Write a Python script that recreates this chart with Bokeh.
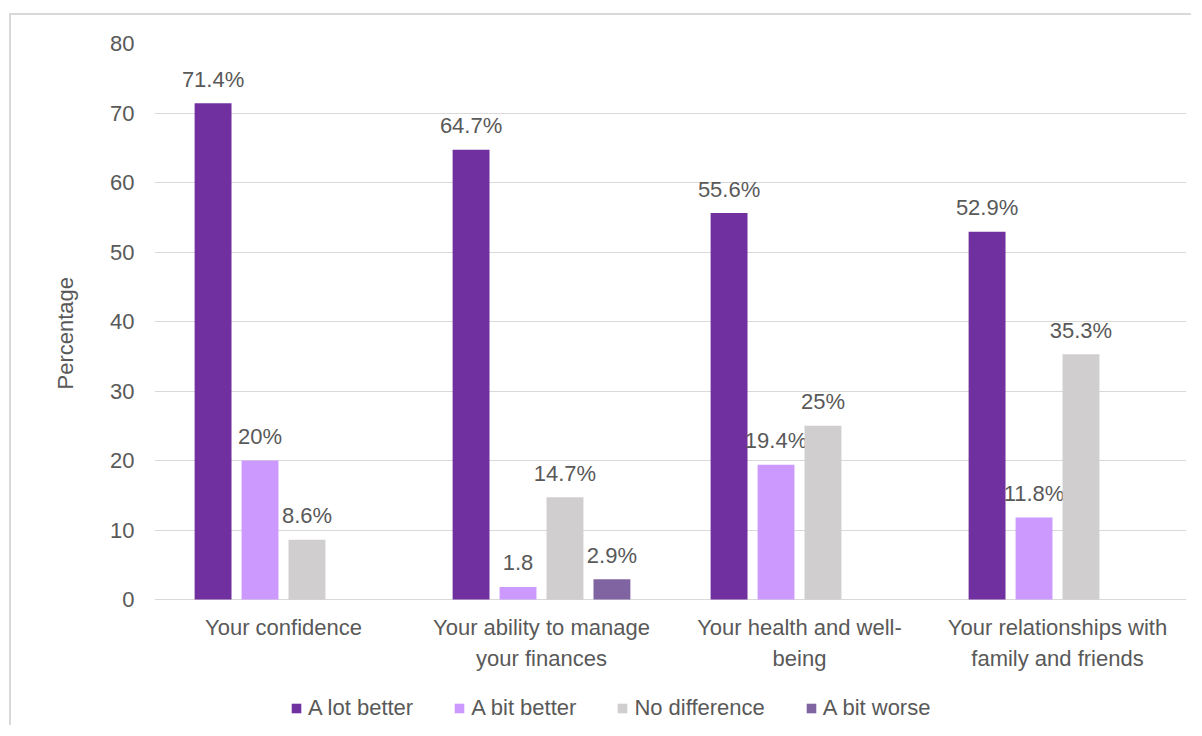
import numpy as np
from bokeh.plotting import figure
from bokeh.models import (ColumnDataSource, FactorRange, Legend, LegendItem,
                          FixedTicker, Title)
from bokeh.transform import dodge
from bokeh.core.properties import value
from bokeh.embed import file_html
from bokeh.resources import INLINE

# ---------------- data ----------------
categories = ["Your confidence",
              "Your ability to manage\nyour finances",
              "Your health and well-\nbeing",
              "Your relationships with\nfamily and friends"]
series_names = ["A lot better", "A bit better", "No difference", "A bit worse"]
a_lot_better = [71.4, 64.7, 55.6, 52.9]
a_bit_better = [20, 1.8, 19.4, 11.8]
no_difference = [8.6, 14.7, 25, 35.3]
a_bit_worse = [None, 2.9, None, None]
a_lot_better_labels = ["71.4%", "64.7%", "55.6%", "52.9%"]
a_bit_better_labels = ["20%", "1.8", "19.4%", "11.8%"]
no_difference_labels = ["8.6%", "14.7%", "25%", "35.3%"]
a_bit_worse_labels = [None, "2.9%", None, None]
y_ticks = [0, 10, 20, 30, 40, 50, 60, 70, 80]

colors = ["#7030A0", "#CC99FF", "#D0CECE", "#8064A2"]
offsets = [-0.273, -0.091, 0.091, 0.273]
FONT = "Liberation Sans"
TXT = "#595959"
FS = "22px"

W, H = 1182, 712
# frame spans 684 px; 0..80 occupies the top 556 px, the rest holds category labels and legend
Y_MIN = 80 - 80 * 684 / 556
p = figure(x_range=FactorRange(*categories, range_padding=0), y_range=(Y_MIN, 80),
           width=W, height=H, output_backend="svg", toolbar_location=None,
           x_axis_location=None,
           min_border_left=143, min_border_right=7, min_border_top=28,
           min_border_bottom=0)
p.styles = {"border-top": "2px solid #D9D9D9", "border-left": "2px solid #D9D9D9",
            "margin-top": "13px", "margin-left": "9px"}
p.outline_line_color = None
p.background_fill_color = "white"
p.border_fill_color = "white"

all_vals = [a_lot_better, a_bit_better, no_difference, a_bit_worse]
all_labels = [a_lot_better_labels, a_bit_better_labels, no_difference_labels, a_bit_worse_labels]
items = []
for name, vals, labs, col, off in zip(series_names, all_vals, all_labels, colors, offsets):
    cats = [c for c, v in zip(categories, vals) if v is not None]
    vv = [v for v in vals if v is not None]
    ll = [l for l, v in zip(labs, vals) if v is not None]
    src = ColumnDataSource(dict(cat=cats, val=vv, lab=ll))
    r = p.vbar(x=dodge("cat", off, range=p.x_range), top="val", width=0.143,
               source=src, fill_color=col, line_color=None)
    p.text(x=dodge("cat", off, range=p.x_range), y="val", text="lab", source=src,
           text_font=value(FONT), text_font_size=FS, text_color=TXT,
           text_align="center", text_baseline="middle", y_offset=-24)
    items.append(LegendItem(label=name, renderers=[r]))

# category labels under the zero line
cat_src = ColumnDataSource(dict(cat=categories, y=[0] * len(categories)))
p.text(x="cat", y="y", text="cat", source=cat_src, text_font=value(FONT),
       text_font_size=FS, text_color=TXT, text_align="center",
       text_baseline="top", text_line_height=1.25, y_offset=15)

# y axis
p.yaxis.ticker = FixedTicker(ticks=y_ticks)
p.yaxis.axis_line_color = None
p.yaxis.major_tick_line_color = None
p.yaxis.minor_tick_line_color = None
p.yaxis.major_tick_out = 0
p.yaxis.major_label_standoff = 20
p.yaxis.major_label_text_font = FONT
p.yaxis.major_label_text_font_size = FS
p.yaxis.major_label_text_color = TXT

ytitle = Title(text="Percentage", align="left", offset=338, standoff=60,
               text_font=FONT, text_font_size=FS, text_font_style="normal",
               text_color=TXT)
p.add_layout(ytitle, "left")

p.xgrid.grid_line_color = None
p.ygrid.grid_line_color = "#D9D9D9"
p.ygrid.grid_line_width = 1

legend = Legend(items=items, orientation="horizontal", location=(136, 6),
                padding=0, margin=0, spacing=40, label_standoff=6,
                glyph_width=12, glyph_height=12, label_height=12,
                label_text_font=FONT, label_text_font_size=FS,
                label_text_color=TXT, border_line_color=None,
                background_fill_alpha=0)
p.add_layout(legend, "center")

open("out.html", "w").write(file_html(p, INLINE))
